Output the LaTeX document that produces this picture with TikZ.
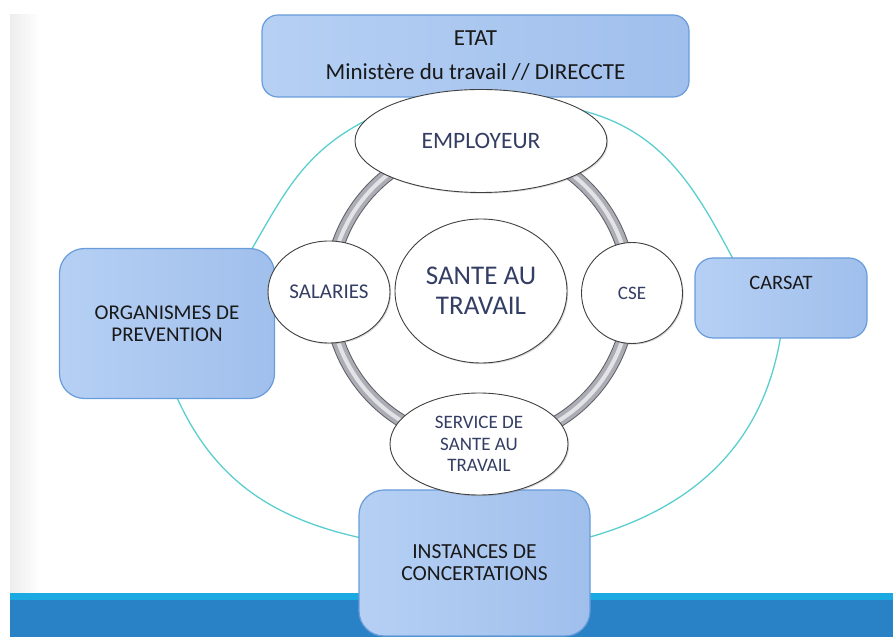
\documentclass[tikz,border=0pt]{standalone}
\usepackage{fontspec}
\setmainfont{Carlito}
\usetikzlibrary{shapes.geometric,shadows}

\definecolor{boxlight}{RGB}{182,208,244}
\definecolor{boxdark}{RGB}{160,191,236}
\definecolor{boxline}{RGB}{104,156,218}
\definecolor{oval}{RGB}{90,206,206}
\definecolor{ringedge}{RGB}{95,95,102}
\definecolor{ringfill}{RGB}{172,172,180}
\definecolor{ringshine}{RGB}{226,226,231}
\definecolor{roletext}{RGB}{52,62,100}
\definecolor{bandblue}{RGB}{40,130,197}
\definecolor{bandcyan}{RGB}{28,168,224}

\begin{document}
\begin{tikzpicture}[x=1pt, y=1pt,
  partner/.style={draw=boxline, line width=1.2pt, rounded corners=16pt,
    left color=boxlight, right color=boxdark, align=center, text=black!90,
    font=\fontsize{21}{22}\selectfont},
  role/.style={ellipse, draw=black!75, line width=0.9pt, fill=white,
    align=center, text=roletext, inner sep=0pt,
    drop shadow={shadow xshift=1.2pt, shadow yshift=-1.2pt, opacity=0.3},
    font=\fontsize{21}{22}\selectfont}]

\useasboundingbox (0,0) rectangle (893,637);

% page side strip and bottom band
\fill[left color=black!7, right color=white] (10,44) rectangle (40,622);
\fill[bandblue] (10,0) rectangle (893,44);
\fill[bandcyan] (10,37) rectangle (893,44);

% outer oval
\draw[oval, line width=1.3pt] (470,538)
  to[out=0, in=166] (580,527)
  to[out=-14, in=118] (732,380)
  to[out=-62, in=90] (784,318)
  to[out=-90, in=80] (780,297)
  to[out=-100, in=16] (590,100)
  to[out=-164, in=0] (474,81)
  to[out=180, in=-13] (357,100)
  to[out=167, in=-65] (178,237)
  to[out=115, in=-100] (176,290)
  to[out=80, in=-120] (253,390)
  to[out=60, in=-152] (363,515)
  to[out=28, in=180] cycle;

% ring joining the roles
\coordinate (hub) at (480,344);
\draw[ringedge, line width=13.5pt] (hub) circle[radius=150pt];
\draw[ringfill, line width=11.5pt] (hub) circle[radius=150pt];
\draw[ringshine, line width=4pt] (hub) circle[radius=150pt];

% outside partners
\node[partner, minimum width=427pt, minimum height=82pt,
  font=\fontsize{23}{25}\selectfont] (etat) at (475.5,581)
  {ETAT\\[9pt]Ministère du travail // DIRECCTE};
\node[partner, rounded corners=25pt, minimum width=215pt, minimum height=150pt]
  (prevention) at (167,313.5) {ORGANISMES DE\\PREVENTION};
\node[partner, rounded corners=18pt, minimum width=172pt, minimum height=80pt]
  (carsat) at (781,339) {};
\node[text=black!90, font=\fontsize{20.5}{22}\selectfont] (carsatname) at (781,354) {CARSAT};
\node[partner, rounded corners=25pt, minimum width=231pt, minimum height=146pt,
  font=\fontsize{21.5}{22}\selectfont] (instances) at (474.5,74) {INSTANCES DE\\CONCERTATIONS};

% centre and roles on the ring
\node[role, minimum width=172pt, minimum height=144pt,
  font=\fontsize{27}{30}\selectfont] (sante) at (481,346) {SANTE AU\\TRAVAIL};
\node[role, minimum width=252pt, minimum height=103pt,
  font=\fontsize{23.5}{25}\selectfont] (employeur) at (481,496) {EMPLOYEUR};
\node[role, minimum width=122pt, minimum height=102pt] (salaries) at (329,345) {SALARIES};
\node[role, minimum width=101pt, minimum height=101pt,
  font=\fontsize{19}{20}\selectfont] (cse) at (632,344) {CSE};
\node[role, minimum width=178pt, minimum height=102pt,
  font=\fontsize{19}{21.3}\selectfont] (sst) at (479,193) {SERVICE DE\\SANTE AU\\TRAVAIL};

\end{tikzpicture}
\end{document}
